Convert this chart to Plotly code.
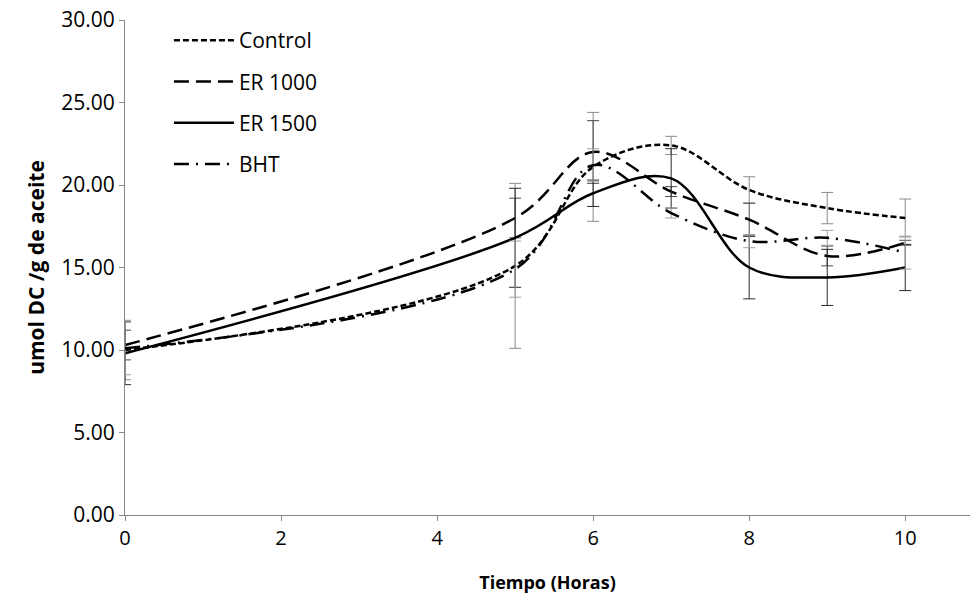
import plotly.graph_objects as go

x_hours = [0, 5, 6, 7, 8, 9, 10]

control = [10.0, 15.1, 21.1, 22.4, 19.7, 18.6, 18.0]
control_err = [1.8, 5.0, 3.3, 0.55, 0.8, 0.95, 1.15]

er1000 = [10.3, 18.0, 22.0, 19.6, 17.9, 15.7, 16.5]
er1000_err = [0.9, 1.2, 1.9, 0.3, 1.0, 0.6, 0.15]

er1500 = [9.8, 16.8, 19.5, 20.4, 15.0, 14.4, 15.0]
er1500_err = [1.9, 3.0, 0.8, 1.8, 1.9, 1.7, 1.4]

bht = [10.1, 14.9, 21.2, 18.3, 16.6, 16.8, 15.9]
bht_err = [1.6, 1.7, 1.0, 0.3, 0.4, 0.45, 1.0]

names = ["Control", "ER 1000", "ER 1500", "BHT"]
series = [control, er1000, er1500, bht]
errors = [control_err, er1000_err, er1500_err, bht_err]
dashes = ["6px,3px", "15px,7px", "solid", "15px,7px,2px,7px"]
err_colors = ["#8a8a8a", "#4a4a4a", "#2a2a2a", "#a0a0a0"]

FONT = "Open Sans"

fig = go.Figure()
for i, (nm, ys, er, ds, ec) in enumerate(zip(names, series, errors, dashes, err_colors)):
    fig.add_trace(go.Scatter(
        x=x_hours, y=ys, name=nm, mode="lines",
        legendgroup=f"g{i}",
        line=dict(color="black", width=2.5, dash=ds, shape="spline", smoothing=1.0),
        error_y=dict(type="data", array=er, visible=True, color=ec, thickness=1, width=6),
    ))

fig.update_layout(
    width=972, height=603,
    margin=dict(l=125, r=2, t=20, b=88),
    paper_bgcolor="white", plot_bgcolor="white",
    font=dict(family=FONT, size=21, color="black"),
    showlegend=True,
    legend=dict(
        x=0.052, y=1.0, xanchor="left", yanchor="top",
        font=dict(family=FONT, size=21, color="black"),
        bgcolor="rgba(0,0,0,0)", itemwidth=60, tracegroupgap=11,
    ),
    xaxis=dict(
        range=[0, 10.83], tickvals=[0, 2, 4, 6, 8, 10], ticktext=["0", "2", "4", "6", "8", "10"],
        showgrid=False, zeroline=False, showline=True, linecolor="#868686", linewidth=1,
        ticks="outside", ticklen=5, tickcolor="#868686",
        tickfont=dict(family=FONT, size=20, color="black"),
        title=dict(text="<b>Tiempo (Horas)</b>", font=dict(family=FONT, size=18, color="black"), standoff=26),
    ),
    yaxis=dict(
        range=[0, 30], tickvals=[0, 5, 10, 15, 20, 25, 30],
        ticktext=["0.00", "5.00", "10.00", "15.00", "20.00", "25.00", "30.00"],
        showgrid=False, zeroline=False, showline=True, linecolor="#868686", linewidth=1,
        ticks="outside", ticklen=5, tickcolor="#868686",
        tickfont=dict(family=FONT, size=21, color="black"),
        title=dict(text="<b>umol DC /g de aceite</b>", font=dict(family=FONT, size=21, color="black"), standoff=10),
    ),
)

fig.write_html("out.html")
